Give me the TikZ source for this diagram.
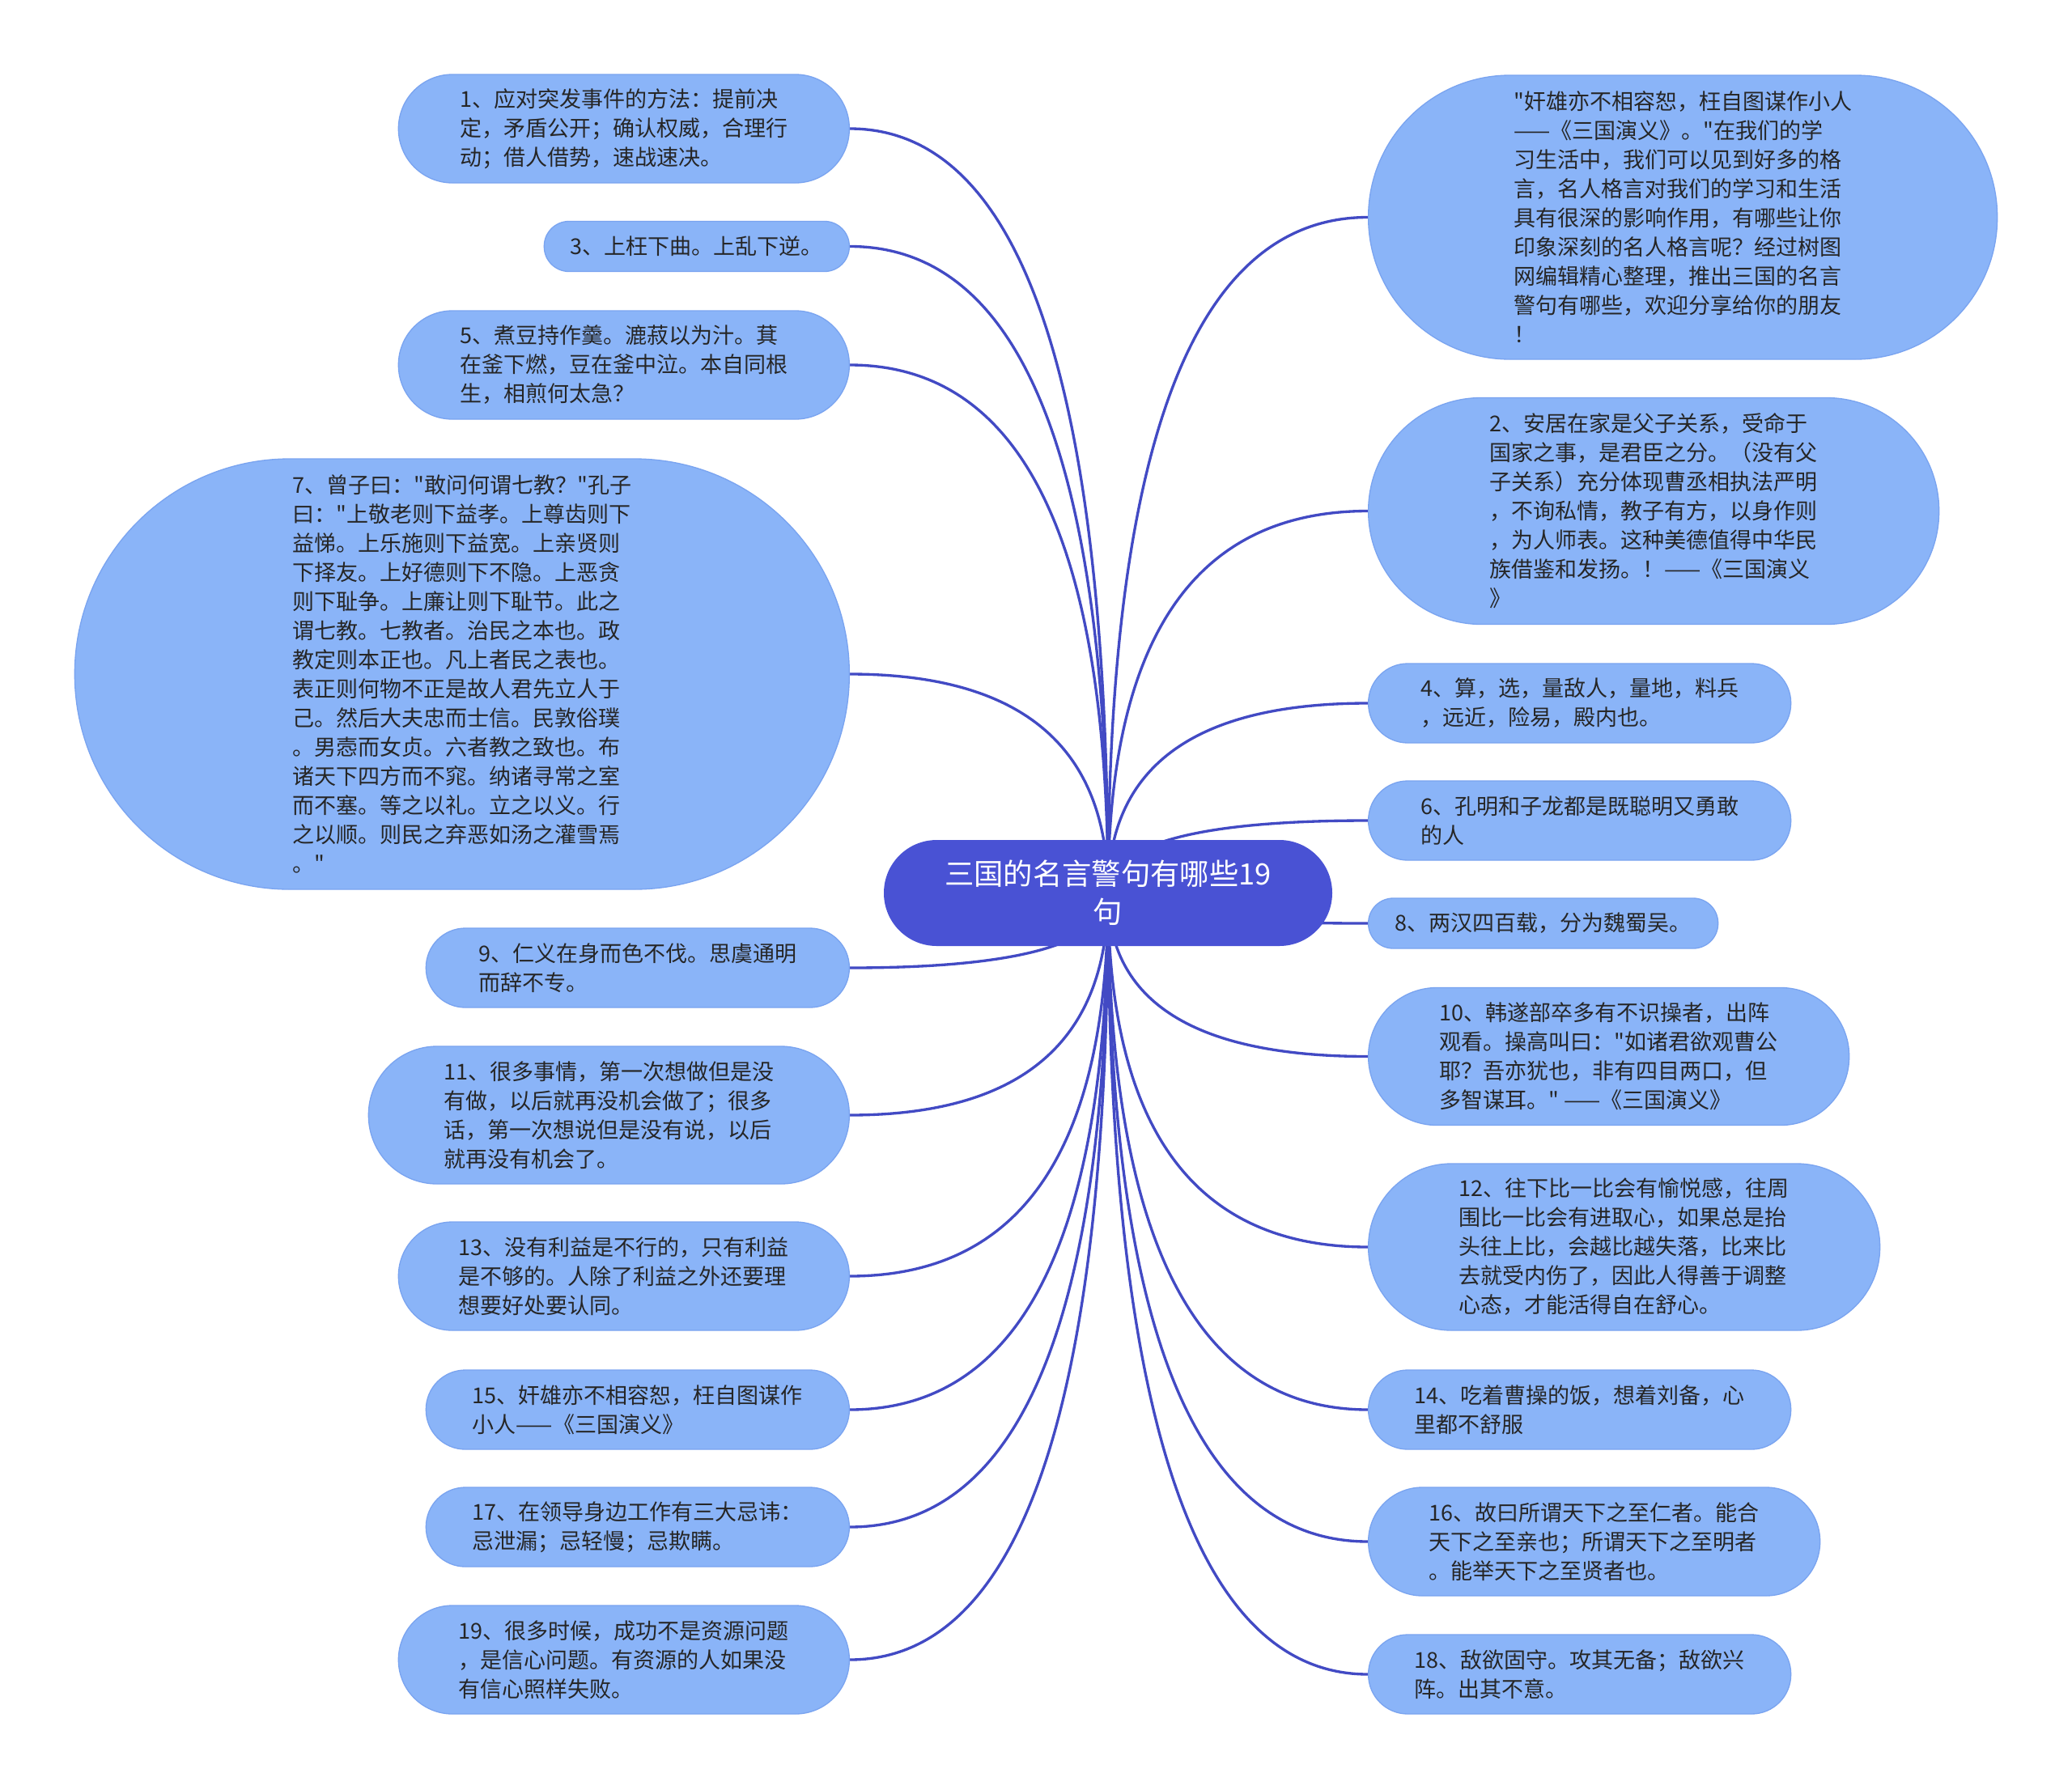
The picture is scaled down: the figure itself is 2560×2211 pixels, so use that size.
\documentclass[tikz,border=0pt]{standalone}
\usepackage{fontspec}
\newfontfamily\cjk{Noto Sans CJK SC}
\usetikzlibrary{calc}
\definecolor{leaf}{RGB}{138,180,248}
\definecolor{leafedge}{RGB}{122,164,240}
\definecolor{rootc}{RGB}{73,82,212}
\definecolor{linkc}{RGB}{66,74,196}
\definecolor{txt}{RGB}{38,38,38}
\pgfdeclarelayer{back}
\pgfdeclarelayer{bg}
\pgfsetlayers{back,bg,main}
\begin{document}
\begin{tikzpicture}[x=0.3pt,y=-0.3pt,
  leafnode/.style={fill=leaf, draw=leafedge, line width=0.4pt, text=txt, align=left, inner sep=0pt,
    font=\cjk\fontsize{8.1}{10.8}\selectfont},
  lft/.style={leafnode, anchor=east},
  rgt/.style={leafnode, anchor=west},
  h1/.style={minimum height=18.6pt, rounded corners=9.2pt},
  h2/.style={minimum height=29.4pt, rounded corners=14.6pt},
  h3/.style={minimum height=40.2pt, rounded corners=20pt},
  h4/.style={minimum height=51pt, rounded corners=25.4pt},
  h5/.style={minimum height=61.8pt, rounded corners=30.8pt},
  h7/.style={minimum height=84pt, rounded corners=41.9pt},
  h9/.style={minimum height=105.3pt, rounded corners=52.5pt},
  h14/.style={minimum height=159.6pt, rounded corners=79.7pt},
  link/.style={draw=linkc, line width=1pt}]

\begin{pgfonlayer}{back}
\fill[white] (0,0) rectangle (2560,2211);
\end{pgfonlayer}
\useasboundingbox (0,0) rectangle (2560,2211);

% root
\node[fill=rootc, text=white, minimum width=166.2pt, minimum height=39.3pt, rounded corners=19.6pt,
  align=center, inner sep=0pt, font=\cjk\fontsize{10.9}{14.1}\selectfont] (root) at (1369,1103.5)
  {三国的名言警句有哪些19\\句};

% left column
\node[lft,h3,minimum width=167.1pt] (n1) at (1050,159)
  {1、应对突发事件的方法：提前决\\定，矛盾公开；确认权威，合理行\\动；借人借势，速战速决。};
\node[lft,h1,minimum width=113.1pt] (n3) at (1050,304.5)
  {3、上枉下曲。上乱下逆。};
\node[lft,h3,minimum width=167.1pt] (n5) at (1050,451)
  {5、煮豆持作羹。漉菽以为汁。萁\\在釜下燃，豆在釜中泣。本自同根\\生，相煎何太急？};
\node[lft,h14,minimum width=287.1pt] (n7) at (1050,833)
  {7、曾子曰："敢问何谓七教？"孔子\\曰："上敬老则下益孝。上尊齿则下\\益悌。上乐施则下益宽。上亲贤则\\下择友。上好德则下不隐。上恶贪\\则下耻争。上廉让则下耻节。此之\\谓七教。七教者。治民之本也。政\\教定则本正也。凡上者民之表也。\\表正则何物不正是故人君先立人于\\己。然后大夫忠而士信。民敦俗璞\\。男悫而女贞。六者教之致也。布\\诸天下四方而不窕。纳诸寻常之室\\而不塞。等之以礼。立之以义。行\\之以顺。则民之弃恶如汤之灌雪焉\\。"};
\node[lft,h2,minimum width=156.9pt] (n9) at (1050,1196)
  {9、仁义在身而色不伐。思虞通明\\而辞不专。};
\node[lft,h4,minimum width=178.2pt] (n11) at (1050,1378)
  {11、很多事情，第一次想做但是没\\有做，以后就再没机会做了；很多\\话，第一次想说但是没有说，以后\\就再没有机会了。};
\node[lft,h3,minimum width=167.1pt] (n13) at (1050,1577)
  {13、没有利益是不行的，只有利益\\是不够的。人除了利益之外还要理\\想要好处要认同。};
\node[lft,h2,minimum width=156.9pt] (n15) at (1050,1742)
  {15、奸雄亦不相容恕，枉自图谋作\\小人——《三国演义》};
\node[lft,h2,minimum width=156.9pt] (n17) at (1050,1887)
  {17、在领导身边工作有三大忌讳：\\忌泄漏；忌轻慢；忌欺瞒。};
\node[lft,h3,minimum width=167.1pt] (n19) at (1050,2051)
  {19、很多时候，成功不是资源问题\\，是信心问题。有资源的人如果没\\有信心照样失败。};

% right column
\node[rgt,h9,minimum width=233.1pt] (intro) at (1690,268.5)
  {"奸雄亦不相容恕，枉自图谋作小人\\——《三国演义》。"在我们的学\\习生活中，我们可以见到好多的格\\言，名人格言对我们的学习和生活\\具有很深的影响作用，有哪些让你\\印象深刻的名人格言呢？经过树图\\网编辑精心整理，推出三国的名言\\警句有哪些，欢迎分享给你的朋友\\！};
\node[rgt,h7,minimum width=211.5pt] (n2) at (1690,631.5)
  {2、安居在家是父子关系，受命于\\国家之事，是君臣之分。（没有父\\子关系）充分体现曹丞相执法严明\\，不询私情，教子有方，以身作则\\，为人师表。这种美德值得中华民\\族借鉴和发扬。！——《三国演义\\》};
\node[rgt,h2,minimum width=156.6pt] (n4) at (1690,869)
  {4、算，选，量敌人，量地，料兵\\，远近，险易，殿内也。};
\node[rgt,h2,minimum width=156.6pt] (n6) at (1690,1014)
  {6、孔明和子龙都是既聪明又勇敢\\的人};
\node[rgt,h1,minimum width=129.6pt] (n8) at (1690,1141)
  {8、两汉四百载，分为魏蜀吴。};
\node[rgt,h4,minimum width=178.2pt] (n10) at (1690,1305.5)
  {10、韩遂部卒多有不识操者，出阵\\观看。操高叫曰："如诸君欲观曹公\\耶？吾亦犹也，非有四目两口，但\\多智谋耳。" ——《三国演义》};
\node[rgt,h5,minimum width=189.6pt] (n12) at (1690,1541)
  {12、往下比一比会有愉悦感，往周\\围比一比会有进取心，如果总是抬\\头往上比，会越比越失落，比来比\\去就受内伤了，因此人得善于调整\\心态，才能活得自在舒心。};
\node[rgt,h2,minimum width=156.6pt] (n14) at (1690,1742)
  {14、吃着曹操的饭，想着刘备，心\\里都不舒服};
\node[rgt,h3,minimum width=167.4pt] (n16) at (1690,1905)
  {16、故曰所谓天下之至仁者。能合\\天下之至亲也；所谓天下之至明者\\。能举天下之至贤者也。};
\node[rgt,h2,minimum width=156.6pt] (n18) at (1690,2069)
  {18、敌欲固守。攻其无备；敌欲兴\\阵。出其不意。};

% connectors (quadratic curves from the root centre)
\begin{pgfonlayer}{bg}
\foreach \n in {n1,n3,n5,n7,n9,n11,n13,n15,n17,n19}{
  \draw[link] (root.center) .. controls ($(root.center)!2/3!(root.center |- \n.east)$)
    and ($(\n.east)!2/3!(root.center |- \n.east)$) .. (\n.east);
}
\foreach \n in {intro,n2,n4,n6,n8,n10,n12,n14,n16,n18}{
  \draw[link] (root.center) .. controls ($(root.center)!2/3!(root.center |- \n.west)$)
    and ($(\n.west)!2/3!(root.center |- \n.west)$) .. (\n.west);
}
\end{pgfonlayer}
\end{tikzpicture}
\end{document}
